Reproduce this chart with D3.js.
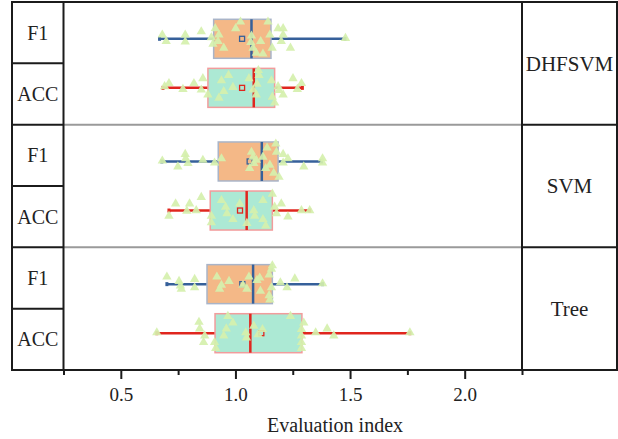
<!DOCTYPE html>
<html>
<head>
<meta charset="utf-8">
<script src="https://cdn.jsdelivr.net/npm/d3@7"></script>
<style>
  body { margin: 0; background: #fff; }
  text { font-family: "Liberation Serif", "DejaVu Serif", serif; fill: #222; }
</style>
</head>
<body>
<svg id="chart"></svg>
<script>
var models = ["DHFSVM", "SVM", "Tree"];
var metrics = ["F1", "ACC"];
var xTicks = [0.5, 1.0, 1.5, 2.0];
var xMinorTicks = [0.25, 0.75, 1.25, 1.75, 2.25];

// row order: DHFSVM F1, DHFSVM ACC, SVM F1, SVM ACC, Tree F1, Tree ACC
var whiskerLow  = [0.669, 0.684, 0.679, 0.710, 0.701, 0.657];
var q1          = [0.905, 0.880, 0.925, 0.890, 0.876, 0.911];
var medians     = [1.070, 1.080, 1.115, 1.049, 1.077, 1.065];
var q3          = [1.155, 1.171, 1.186, 1.161, 1.161, 1.290];
var whiskerHigh = [1.478, 1.292, 1.375, 1.324, 1.380, 1.761];
var means       = [1.029, 1.029, 1.062, 1.020, 1.030, 1.113];

// raw points: [value, jitter (-1..1 of half box height)]
var dhfsvmF1 = [[0.681,-0.2],[0.698,0.13],[0.781,-0.2],[0.781,0.15],[0.851,-0.37],[0.895,-0.07],
  [0.902,0.27],[0.912,-0.53],[0.928,-0.2],[0.924,0.13],[0.949,0.47],[1.001,-0.53],[1.022,-0.87],
  [1.07,-0.15],[1.067,0.18],[1.077,0.47],[1.11,0.13],[1.091,0.73],[1.12,0.77],[1.142,-0.87],
  [1.15,-0.2],[1.16,0.47],[1.186,-0.53],[1.208,-0.53],[1.208,-0.2],[1.2,0.13],[1.24,0.47],[1.48,-0.03]];
var dhfsvmAcc = [[0.691,-0.07],[0.71,-0.23],[0.771,0.07],[0.819,-0.23],[0.858,-0.48],[0.851,0.1],
  [0.88,0.35],[0.928,0.52],[0.939,-0.37],[0.949,0.18],[0.97,-0.65],[0.989,-0.03],[1.059,-0.48],
  [1.077,0.1],[1.094,-0.2],[1.1,-0.9],[1.103,-0.65],[1.091,0.35],[1.157,-0.37],[1.161,0.47],
  [1.171,0.77],[1.186,-0.07],[1.19,0.13],[1.208,0.35],[1.251,-0.48],[1.27,0.07],[1.288,-0.23]];
var svmF1 = [[0.681,-0.03],[0.749,0.27],[0.781,-0.37],[0.783,-0.15],[0.793,0.1],[0.858,-0.07],
  [0.909,0.07],[0.939,-0.15],[1.062,0.35],[1.07,-0.48],[1.077,-0.23],[1.08,0.1],[1.091,-0.07],
  [1.12,-0.23],[1.132,0.35],[1.138,-0.7],[1.15,0.18],[1.167,0.6],[1.176,-0.9],[1.179,-0.48],
  [1.19,0.8],[1.208,-0.37],[1.229,-0.15],[1.208,0.07],[1.298,0.27],[1.38,-0.15],[1.38,0.07]];
var svmAcc = [[0.71,0.28],[0.739,-0.35],[0.8,-0.35],[0.788,0.02],[0.829,0],[0.851,-0.68],
  [0.895,0.28],[0.895,0.62],[0.939,-0.52],[0.957,-0.18],[0.963,0.15],[0.989,0.45],[1.019,-0.35],
  [1.05,0.65],[1.08,0],[1.084,0.28],[1.12,-0.52],[1.12,0.45],[1.132,0.78],[1.161,-0.85],
  [1.171,-0.18],[1.179,0.15],[1.2,-0.35],[1.229,0.32],[1.288,0],[1.324,0]];
var treeF1 = [[0.701,-0.37],[0.754,-0.15],[0.76,0.08],[0.764,0.25],[0.822,-0.25],[0.822,0.18],
  [0.919,-0.37],[0.939,0.05],[0.931,0.25],[0.972,-0.15],[1.033,0.05],[1.05,0.25],[1.059,-0.37],
  [1.094,-0.2],[1.106,-0.32],[1.109,0.35],[1.147,0.58],[1.15,0.8],[1.147,-0.48],[1.157,-0.78],
  [1.161,-0.95],[1.157,0.18],[1.196,-0.08],[1.225,0.18],[1.259,-0.28],[1.38,-0.03]];
var treeAcc = [[0.657,-0.03],[0.841,-0.57],[0.844,-0.23],[0.866,0.13],[0.861,0.47],[0.909,0.47],
  [0.914,0.77],[0.949,0.13],[0.96,-0.23],[0.967,-0.87],[0.989,-0.53],[1.045,-0.03],[1.048,0.23],
  [1.08,-0.37],[1.099,0.07],[1.118,-0.2],[1.24,-0.87],[1.288,-0.2],[1.298,-0.53],[1.288,0.13],
  [1.288,0.47],[1.288,0.77],[1.35,-0.03],[1.4,-0.23],[1.429,0.13],[1.761,-0.03]];
var rowPoints = [dhfsvmF1, dhfsvmAcc, svmF1, svmAcc, treeF1, treeAcc];

var screen = { width: 618, height: 439 };
var frame = { left: 12, right: 617, top: 2, bottom: 370 };
var plotLeft = 63.5, plotRight = 522;

var styles = {
  F1:  { fill: "#f4b887", stroke: "#a9b4c8", line: "#36609a" },
  ACC: { fill: "#ace9d4", stroke: "#f29c9c", line: "#e0261e" }
};

var svg = d3.select("#chart")
  .attr("width", screen.width)
  .attr("height", screen.height);

var xScale = d3.scaleLinear()
  .domain([0.25, 2.25])
  .range([plotLeft, plotRight]);

var panelScale = d3.scaleBand()
  .domain(models)
  .range([frame.top, frame.bottom]);

var rowScale = d3.scalePoint()
  .domain(metrics)
  .range([0, panelScale.bandwidth()])
  .padding(0.75);

var boxHalf = 19.5;
var jitterScale = d3.scaleLinear().domain([-1, 1]).range([-boxHalf, boxHalf]);

var rows = [];
models.forEach(function(m, i) {
  metrics.forEach(function(k, j) {
    rows.push({ model: m, metric: k, idx: i * 2 + j });
  });
});

// gray separators inside the plot area
svg.selectAll(".sep")
  .data(models.slice(1))
  .enter()
  .append("line")
  .attr("x1", plotLeft)
  .attr("x2", plotRight)
  .attr("y1", function(d) { return panelScale(d); })
  .attr("y2", function(d) { return panelScale(d); })
  .style("stroke", "#9a9a9a")
  .style("stroke-width", 2);

// boxes
var rowGroups = svg.selectAll(".row")
  .data(rows)
  .enter()
  .append("g")
  .attr("transform", function(d) {
    return "translate(0," + (panelScale(d.model) + rowScale(d.metric)) + ")";
  });

rowGroups.append("line")
  .attr("x1", function(d) { return xScale(whiskerLow[d.idx]); })
  .attr("x2", function(d) { return xScale(whiskerHigh[d.idx]); })
  .style("stroke", function(d) { return styles[d.metric].line; })
  .style("stroke-width", 2.5);

rowGroups.selectAll(".cap")
  .data(function(d) { return [whiskerLow[d.idx], whiskerHigh[d.idx]].map(function(v) { return { v: v, m: d.metric }; }); })
  .enter()
  .append("rect")
  .attr("x", function(d) { return xScale(d.v) - 1.5; })
  .attr("y", -2)
  .attr("width", 3)
  .attr("height", 4)
  .style("fill", function(d) { return styles[d.m].line; });

rowGroups.append("rect")
  .attr("x", function(d) { return xScale(q1[d.idx]); })
  .attr("y", -boxHalf)
  .attr("width", function(d) { return xScale(q3[d.idx]) - xScale(q1[d.idx]); })
  .attr("height", boxHalf * 2)
  .style("fill", function(d) { return styles[d.metric].fill; })
  .style("stroke", function(d) { return styles[d.metric].stroke; })
  .style("stroke-width", 1.5);

rowGroups.append("line")
  .attr("x1", function(d) { return xScale(medians[d.idx]); })
  .attr("x2", function(d) { return xScale(medians[d.idx]); })
  .attr("y1", -boxHalf)
  .attr("y2", boxHalf)
  .style("stroke", function(d) { return styles[d.metric].line; })
  .style("stroke-width", 2.5);

rowGroups.append("rect")
  .attr("x", function(d) { return xScale(means[d.idx]) - 2.5; })
  .attr("y", -2.5)
  .attr("width", 5)
  .attr("height", 5)
  .style("fill", "none")
  .style("stroke", function(d) { return styles[d.metric].line; })
  .style("stroke-width", 1.3);

var triangle = d3.symbol().type(d3.symbolTriangle).size(38);

rowGroups.selectAll(".pt")
  .data(function(d) { return rowPoints[d.idx]; })
  .enter()
  .append("path")
  .attr("d", triangle)
  .attr("transform", function(d) {
    return "translate(" + xScale(d[0]) + "," + jitterScale(d[1]) + ")";
  })
  .style("fill", "#d5f0ad")
  .style("fill-opacity", 0.92);

// frame and label columns
var ink = "#1b1b1b";
svg.append("rect")
  .attr("x", frame.left)
  .attr("y", frame.top)
  .attr("width", frame.right - frame.left)
  .attr("height", frame.bottom - frame.top)
  .style("fill", "none")
  .style("stroke", ink)
  .style("stroke-width", 2);

[plotLeft, plotRight].forEach(function(x) {
  svg.append("line")
    .attr("x1", x).attr("x2", x)
    .attr("y1", frame.top).attr("y2", frame.bottom)
    .style("stroke", ink)
    .style("stroke-width", 2);
});

// left column: cell borders
var leftCells = rows.slice(1).map(function(d) { return panelScale(d.model) + (d.metric === "ACC" ? panelScale.bandwidth() / 2 : 0); });
svg.selectAll(".lcell")
  .data(leftCells)
  .enter()
  .append("line")
  .attr("x1", frame.left)
  .attr("x2", plotLeft)
  .attr("y1", function(d) { return d; })
  .attr("y2", function(d) { return d; })
  .style("stroke", ink)
  .style("stroke-width", 2);

svg.selectAll(".rcell")
  .data(models.slice(1))
  .enter()
  .append("line")
  .attr("x1", plotRight)
  .attr("x2", frame.right)
  .attr("y1", function(d) { return panelScale(d); })
  .attr("y2", function(d) { return panelScale(d); })
  .style("stroke", ink)
  .style("stroke-width", 2);

svg.selectAll(".rowLabel")
  .data(rows)
  .enter()
  .append("text")
  .text(function(d) { return d.metric; })
  .attr("x", (frame.left + plotLeft) / 2)
  .attr("y", function(d) {
    var h = panelScale.bandwidth() / 2;
    return panelScale(d.model) + (d.metric === "F1" ? h / 2 : h * 1.5);
  })
  .attr("dy", "0.35em")
  .attr("text-anchor", "middle")
  .style("font-size", "20px");

svg.selectAll(".modelLabel")
  .data(models)
  .enter()
  .append("text")
  .text(function(d) { return d; })
  .attr("x", (plotRight + frame.right) / 2)
  .attr("y", function(d) { return panelScale(d) + panelScale.bandwidth() / 2; })
  .attr("dy", "0.35em")
  .attr("text-anchor", "middle")
  .style("font-size", "21px");

// x axis
var xAxis = d3.axisBottom(xScale)
  .tickValues(xTicks)
  .tickSize(9)
  .tickPadding(9)
  .tickFormat(d3.format(".1f"));

var xMinor = d3.axisBottom(xScale)
  .tickValues(xMinorTicks)
  .tickSize(5)
  .tickFormat("");

var xAxisGraphic = svg.append("g")
  .attr("transform", "translate(0," + frame.bottom + ")")
  .call(xAxis);
var xMinorGraphic = svg.append("g")
  .attr("transform", "translate(0," + frame.bottom + ")")
  .call(xMinor);

[xAxisGraphic, xMinorGraphic].forEach(function(g) {
  g.select(".domain").remove();
  g.selectAll("line").style("stroke", ink).style("stroke-width", 2);
  g.selectAll("text")
    .style("font-family", "'Liberation Serif', serif")
    .style("font-size", "19px")
    .style("fill", "#222");
});

svg.append("text")
  .text("Evaluation index")
  .attr("x", 335)
  .attr("y", 432)
  .attr("text-anchor", "middle")
  .style("font-size", "20px");
</script>
</body>
</html>
